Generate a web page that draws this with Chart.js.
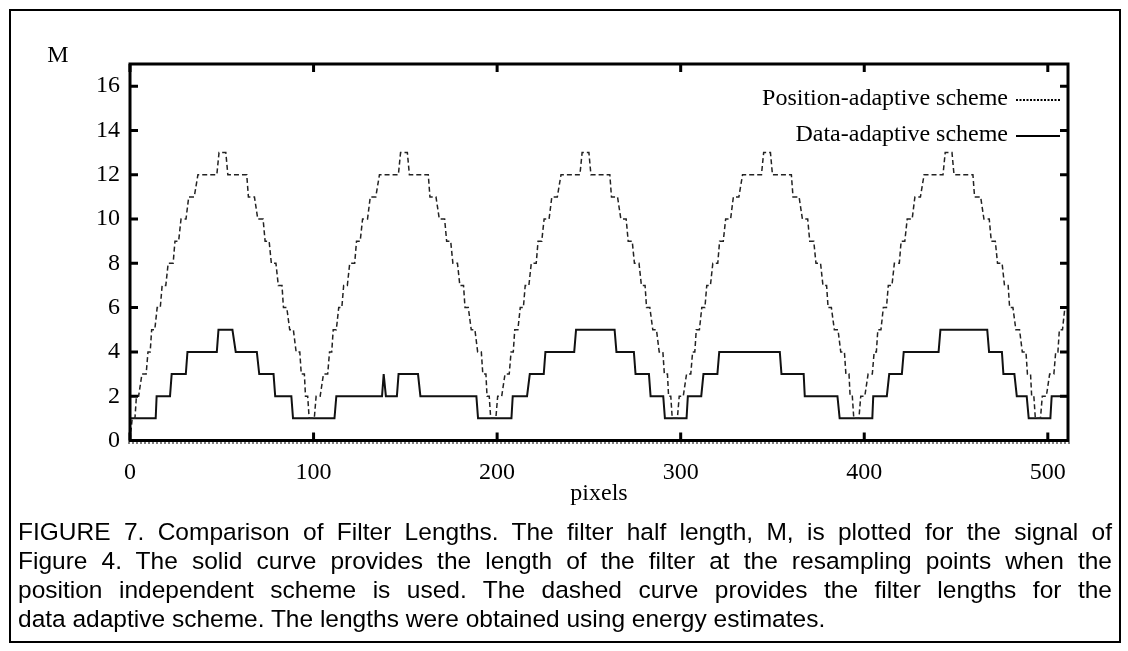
<!DOCTYPE html>
<html>
<head>
<meta charset="utf-8">
<script src="https://cdn.jsdelivr.net/npm/chart.js@4.4.1/dist/chart.umd.min.js"></script>
<style>
  body { margin: 0; background: #fff; }
  #wrap { position: relative; width: 1128px; height: 651px; overflow: hidden; }
  #frame { position: absolute; left: 9px; top: 9px; width: 1108px; height: 630px; border: 2px solid #000; }
  canvas { position: absolute; left: 0; top: 0; }
  #caption { position: absolute; left: 18px; top: 517px; width: 1094px; font-family: "Liberation Sans", Arial, sans-serif; font-size: 24.5px; line-height: 29px; color: #000; }
  #caption div { text-align: justify; text-align-last: justify; white-space: nowrap; }
  #caption div.last { text-align-last: left; }
</style>
</head>
<body>
<div id="wrap">
  <div id="frame"></div>
  <canvas id="chart" width="1128" height="651"></canvas>
  <div id="caption">
    <div>FIGURE 7. Comparison of Filter Lengths. The filter half length, M, is plotted for the signal of</div>
    <div>Figure 4. The solid curve provides the length of the filter at the resampling points when the</div>
    <div>position independent scheme is used. The dashed curve provides the filter lengths for the</div>
    <div class="last">data adaptive scheme. The lengths were obtained using energy estimates.</div>
  </div>
</div>
<script>
// values
const seriesNames = ["Position-adaptive scheme", "Data-adaptive scheme"];
const xTicks = [0, 100, 200, 300, 400, 500];
const yTicks = [0, 2, 4, 6, 8, 10, 12, 14, 16];

// position-adaptive (dashed) curve, break points of the staircase
const posX = [
  0, 1.2, 2.7, 3.5, 4.7, 6.5, 8.8, 9.8, 11, 11.8, 13.5, 14.8, 16.5, 17.5, 19.5, 20.8, 23.5, 24.5, 26.5, 27.8, 30.5, 32, 35, 37, 47.3, 48.5, 52.2, 53.3, 63.6, 64.5, 67.8, 69.6, 72.5, 73.6, 75.8, 77, 79.5, 80.8, 82.8, 83.6, 85.4, 87, 89, 90.5, 92.5, 93.3, 95, 95.6, 96.8, 97.6,
  100.4, 101.4, 103.6, 105.4, 107.7, 108.7, 109.9, 110.7, 112.4, 113.7, 115.4, 116.4, 118.4, 119.7, 122.4, 123.4, 125.4, 126.7, 129.4, 130.9, 133.9, 135.9, 146.2, 147.4, 151.1, 152.2, 162.5, 163.4, 166.7, 168.5, 171.4, 172.5, 174.7, 175.9, 178.4, 179.7, 181.7, 182.5, 184.3, 185.9, 187.9, 189.4, 191.4, 192.2, 193.9, 194.5, 195.7, 196.5,
  199.3, 200.3, 202.5, 204.3, 206.6, 207.6, 208.8, 209.6, 211.3, 212.6, 214.3, 215.3, 217.3, 218.6, 221.3, 222.3, 224.3, 225.6, 228.3, 229.8, 232.8, 234.8, 245.1, 246.3, 250, 251.1, 261.4, 262.3, 265.6, 267.4, 270.3, 271.4, 273.6, 274.8, 277.3, 278.6, 280.6, 281.4, 283.2, 284.8, 286.8, 288.3, 290.3, 291.1, 292.8, 293.4, 294.6, 295.4,
  298.2, 299.2, 301.4, 303.2, 305.5, 306.5, 307.7, 308.5, 310.2, 311.5, 313.2, 314.2, 316.2, 317.5, 320.2, 321.2, 323.2, 324.5, 327.2, 328.7, 331.7, 333.7, 344, 345.2, 348.9, 350, 360.3, 361.2, 364.5, 366.3, 369.2, 370.3, 372.5, 373.7, 376.2, 377.5, 379.5, 380.3, 382.1, 383.7, 385.7, 387.2, 389.2, 390, 391.7, 392.3, 393.5, 394.3,
  397.1, 398.1, 400.3, 402.1, 404.4, 405.4, 406.6, 407.4, 409.1, 410.4, 412.1, 413.1, 415.1, 416.4, 419.1, 420.1, 422.1, 423.4, 426.1, 427.6, 430.6, 432.6, 442.9, 444.1, 447.8, 448.9, 459.2, 460.1, 463.4, 465.2, 468.1, 469.2, 471.4, 472.6, 475.1, 476.4, 478.4, 479.2, 481, 482.6, 484.6, 486.1, 488.1, 488.9, 490.6, 491.2, 492.4, 493.2,
  496, 497, 499.2, 501, 503.3, 504.3, 505.5, 506.3, 508, 509.3, 511
];
const posM = [
  0, 1, 1, 2, 2, 3, 3, 4, 4, 5, 5, 6, 6, 7, 7, 8, 8, 9, 9, 10, 10, 11, 11, 12, 12, 13, 13, 12, 12, 11, 11, 10, 10, 9, 9, 8, 8, 7, 7, 6, 6, 5, 5, 4, 4, 3, 3, 2, 2, 1,
  1, 2, 2, 3, 3, 4, 4, 5, 5, 6, 6, 7, 7, 8, 8, 9, 9, 10, 10, 11, 11, 12, 12, 13, 13, 12, 12, 11, 11, 10, 10, 9, 9, 8, 8, 7, 7, 6, 6, 5, 5, 4, 4, 3, 3, 2, 2, 1,
  1, 2, 2, 3, 3, 4, 4, 5, 5, 6, 6, 7, 7, 8, 8, 9, 9, 10, 10, 11, 11, 12, 12, 13, 13, 12, 12, 11, 11, 10, 10, 9, 9, 8, 8, 7, 7, 6, 6, 5, 5, 4, 4, 3, 3, 2, 2, 1,
  1, 2, 2, 3, 3, 4, 4, 5, 5, 6, 6, 7, 7, 8, 8, 9, 9, 10, 10, 11, 11, 12, 12, 13, 13, 12, 12, 11, 11, 10, 10, 9, 9, 8, 8, 7, 7, 6, 6, 5, 5, 4, 4, 3, 3, 2, 2, 1,
  1, 2, 2, 3, 3, 4, 4, 5, 5, 6, 6, 7, 7, 8, 8, 9, 9, 10, 10, 11, 11, 12, 12, 13, 13, 12, 12, 11, 11, 10, 10, 9, 9, 8, 8, 7, 7, 6, 6, 5, 5, 4, 4, 3, 3, 2, 2, 1,
  1, 2, 2, 3, 3, 4, 4, 5, 5, 6, 6
];

// data-adaptive (solid) curve
const dataX = [
  0, 0, 14, 14.5, 21.8, 22.7, 30.4, 31.3, 47.3, 48.2, 55.8, 57.6, 69.1, 70.4, 78.2, 79.1, 87.9, 88.8,
  111.4, 112.4, 137.3, 138.2, 139.4, 145.4, 146.3, 156.9, 158.2, 188.7, 189.6,
  207.8, 208.5, 216.3, 217.8, 225.4, 226.3, 242, 243, 264, 265, 274.5, 275.4, 282.7, 283.6, 290.5, 291.4,
  303.2, 303.9, 311.2, 312.4, 320, 321, 354, 354.9, 367, 367.6, 385.4, 386.6,
  404.4, 404.9, 412.3, 413.6, 420.5, 421.5, 440.5, 441.5, 467, 468, 475, 475.8, 481.8, 483.1, 488.5, 489.6,
  501.4, 502.1, 511
];
const dataM = [
  0, 1, 1, 2, 2, 3, 3, 4, 4, 5, 5, 4, 4, 3, 3, 2, 2, 1,
  1, 2, 2, 3, 2, 2, 3, 3, 2, 2, 1,
  1, 2, 2, 3, 3, 4, 4, 5, 5, 4, 4, 3, 3, 2, 2, 1,
  1, 2, 2, 3, 3, 4, 4, 3, 3, 2, 2, 1,
  1, 2, 2, 3, 3, 4, 4, 5, 5, 4, 4, 3, 3, 2, 2, 1,
  1, 2, 2
];

const serif = "'Liberation Serif', 'Times New Roman', serif";

// frame, inward ticks, legend and axis names drawn like the original plot
const framePlugin = {
  id: "frame",
  afterDatasetsDraw(chart) {
    const ctx = chart.ctx;
    const a = chart.chartArea;
    const xs = chart.scales.x, ys = chart.scales.y;
    ctx.save();
    ctx.strokeStyle = "#000";
    ctx.lineWidth = 3;
    ctx.setLineDash([]);
    ctx.strokeRect(a.left, a.top, a.right - a.left, a.bottom - a.top);
    ctx.beginPath();
    yTicks.forEach(v => {
      const y = ys.getPixelForValue(v);
      ctx.moveTo(a.left, y); ctx.lineTo(a.left + 8, y);
      ctx.moveTo(a.right, y); ctx.lineTo(a.right - 8, y);
    });
    xTicks.forEach(v => {
      const x = xs.getPixelForValue(v);
      ctx.moveTo(x, a.bottom); ctx.lineTo(x, a.bottom - 8);
      ctx.moveTo(x, a.top); ctx.lineTo(x, a.top + 8);
    });
    ctx.stroke();

    // faint dotted rule under the x axis, as in the scan
    ctx.beginPath();
    ctx.lineWidth = 1;
    ctx.setLineDash([2, 2]);
    ctx.moveTo(a.left - 2, a.bottom + 2.5); ctx.lineTo(a.right + 2, a.bottom + 2.5);
    ctx.stroke();
    ctx.setLineDash([]);

    ctx.fillStyle = "#000";
    ctx.font = "24px " + serif;
    ctx.textBaseline = "middle";
    ctx.textAlign = "center";
    ctx.fillText("M", 58, 56);
    ctx.fillText("pixels", (a.left + a.right) / 2, 494);

    // legend
    const rows = [{ y: 99, ds: chart.data.datasets[0] }, { y: 135, ds: chart.data.datasets[1] }];
    rows.forEach(r => {
      ctx.textAlign = "right";
      ctx.fillText(r.ds.label, 1008, r.y);
      ctx.beginPath();
      ctx.lineWidth = 2;
      ctx.setLineDash(r.ds.borderDash.length ? [2, 1.5] : []);
      ctx.moveTo(1016, r.y + 1); ctx.lineTo(1060, r.y + 1);
      ctx.stroke();
    });
    ctx.restore();
  }
};

new Chart(document.getElementById("chart"), {
  type: "line",
  data: {
    datasets: [
      {
        label: seriesNames[0],
        data: posX.map((x, i) => ({ x, y: posM[i] })),
        borderColor: "#222",
        borderWidth: 1.5,
        borderDash: [5, 3],
        pointRadius: 0,
        tension: 0
      },
      {
        label: seriesNames[1],
        data: dataX.map((x, i) => ({ x, y: dataM[i] })),
        borderColor: "#111",
        borderWidth: 2,
        borderDash: [],
        pointRadius: 0,
        tension: 0
      }
    ]
  },
  options: {
    responsive: false,
    animation: false,
    devicePixelRatio: 1,
    layout: { padding: { left: 0, top: 64, right: 60, bottom: 0 } },
    plugins: { legend: { display: false }, tooltip: { enabled: false } },
    scales: {
      x: {
        type: "linear",
        min: 0,
        max: 511,
        grid: { display: false, drawTicks: false },
        border: { display: false },
        afterBuildTicks: s => { s.ticks = xTicks.map(v => ({ value: v })); },
        afterFit: s => { s.height = 210.5; },
        ticks: { color: "#000", padding: 18, maxRotation: 0, font: { family: serif, size: 24 } }
      },
      y: {
        min: 0,
        max: 17,
        grid: { display: false, drawTicks: false },
        border: { display: false },
        afterBuildTicks: s => { s.ticks = yTicks.map(v => ({ value: v })); },
        afterFit: s => { s.width = 130; },
        ticks: { color: "#000", padding: 10, font: { family: serif, size: 24 } }
      }
    }
  },
  plugins: [framePlugin]
});
</script>
</body>
</html>
